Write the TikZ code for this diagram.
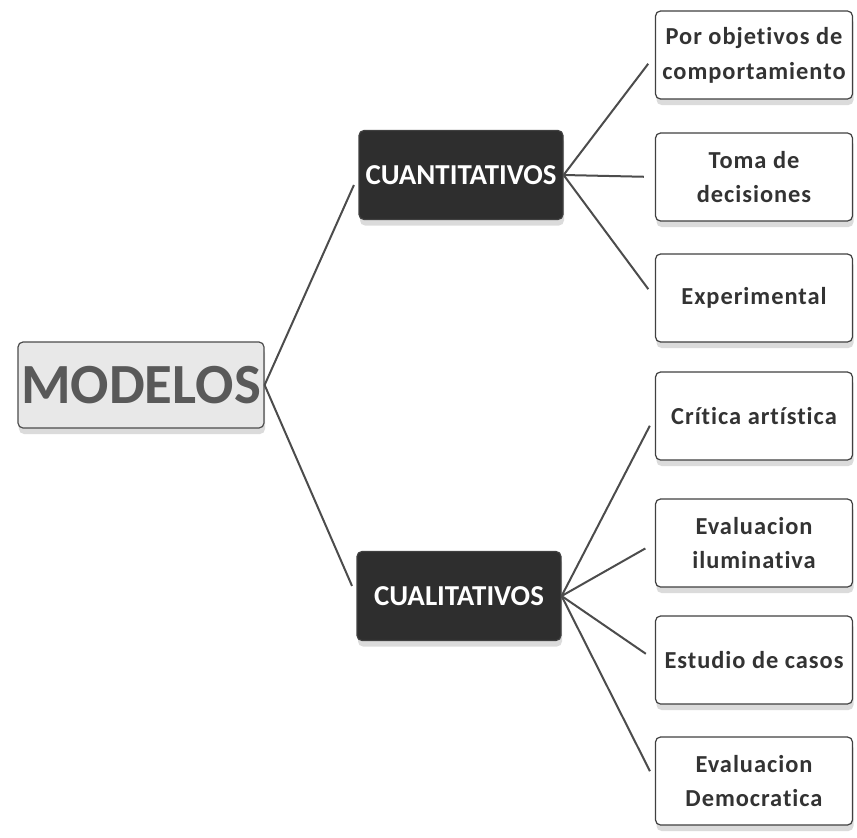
\documentclass[tikz,border=0pt]{standalone}
\usepackage{fontspec}
\setmainfont{Carlito}
\newfontfamily\boxfont[LetterSpace=4,Ligatures=NoCommon]{Carlito}
\usetikzlibrary{shadows}
\begin{document}
\begin{tikzpicture}[x=1bp,y=-1bp,
  boxbase/.style={rounded corners=5bp, line width=1.2bp, align=center, inner sep=0pt,
     drop shadow={shadow xshift=1bp, shadow yshift=-6bp, fill=gray!35, opacity=0.8}},
  rootbox/.style={boxbase, draw=black!70, fill=gray!18, minimum width=246bp, minimum height=86bp,
     text=black!65, font=\bfseries\fontsize{57}{62}\selectfont},
  midbox/.style={boxbase, draw=black!75, fill=black!82, minimum width=204bp, minimum height=89bp,
     text=white, font=\bfseries\fontsize{29}{34}\selectfont},
  leafbox/.style={boxbase, draw=black!75, fill=white, minimum width=197bp, minimum height=88bp,
     text=black!80, font=\boxfont\bfseries\fontsize{24.5}{35}\selectfont},
  link/.style={draw=black!70, line width=2bp, shorten >=11bp}
]
\useasboundingbox (0,0) rectangle (857,838);

\node[rootbox] (root) at (141,385) {MODELOS};
\node[midbox] (cuant) at (461,175) {CUANTITATIVOS};
\node[midbox] (cual) at (459,596) {CUALITATIVOS};

\node[leafbox] (l1) at (754,55) {Por objetivos de\\comportamiento};
\node[leafbox] (l2) at (754,177) {Toma de\\decisiones};
\node[leafbox] (l3) at (754,298) {Experimental};
\node[leafbox] (l4) at (754,416) {Crítica artística};
\node[leafbox] (l5) at (754,543) {Evaluacion\\iluminativa};
\node[leafbox] (l6) at (754,660) {Estudio de casos};
\node[leafbox] (l7) at (754,781) {Evaluacion\\Democratica};

\draw[link] (root.east) -- (cuant.west);
\draw[link] (root.east) -- (cual.west);
\foreach \n in {l1,l2,l3}{\draw[link] (cuant.east) -- (\n.west);}
\foreach \n in {l4,l5,l6,l7}{\draw[link] (cual.east) -- (\n.west);}
\end{tikzpicture}
\end{document}
